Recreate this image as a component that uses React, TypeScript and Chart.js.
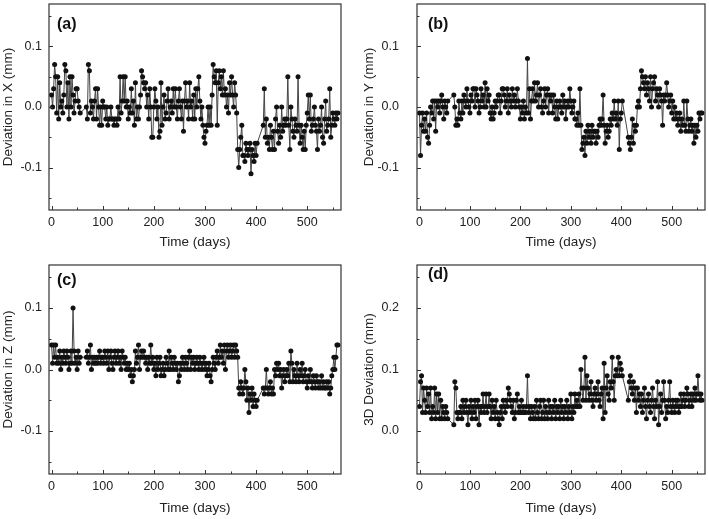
import React, { useEffect, useRef } from "react";
import { Chart, registerables } from "chart.js";
Chart.register(...registerables);

// Measurement days (common to all four panels)
const days = [
  0, 2, 4, 6, 8, 10, 12, 14, 16, 18,
  20, 22, 24, 26, 28, 30, 32, 34, 36, 38,
  40, 42, 44, 46, 48, 50, 52, 54, 56, 68,
  70, 72, 74, 76, 78, 80, 82, 84, 86, 88,
  90, 92, 94, 96, 98, 100, 102, 104, 106, 108,
  110, 112, 114, 116, 118, 120, 122, 124, 126, 128,
  130, 132, 134, 136, 138, 140, 142, 144, 146, 148,
  150, 152, 154, 156, 158, 160, 162, 164, 166, 168,
  170, 172, 174, 176, 178, 180, 182, 184, 186, 188,
  190, 192, 194, 196, 198, 200, 202, 204, 206, 208,
  210, 212, 214, 216, 218, 220, 222, 224, 226, 228,
  230, 232, 234, 236, 238, 240, 242, 244, 246, 248,
  250, 252, 254, 256, 258, 260, 262, 264, 266, 268,
  270, 272, 274, 276, 278, 280, 282, 284, 286, 288,
  290, 292, 294, 296, 298, 300, 302, 304, 306, 308,
  310, 312, 314, 316, 318, 320, 322, 324, 326, 328,
  330, 332, 334, 336, 338, 340, 342, 344, 346, 348,
  350, 352, 354, 356, 358, 360, 362, 364, 366, 368,
  370, 372, 374, 376, 378, 380, 382, 384, 386, 388,
  390, 392, 394, 396, 398, 400, 402, 414, 416, 418,
  420, 422, 424, 426, 428, 430, 432, 434, 436, 438,
  440, 442, 444, 446, 448, 450, 452, 454, 456, 458,
  460, 462, 464, 466, 468, 470, 472, 474, 476, 478,
  480, 482, 484, 486, 488, 490, 492, 494, 496, 498,
  500, 502, 504, 506, 508, 510, 512, 514, 516, 518,
  520, 522, 524, 526, 528, 530, 532, 534, 536, 538,
  540, 542, 544, 546, 548, 550, 552, 554, 556, 558,
  560,
];

// Deviations in hundredths of a millimetre
const devX = [
  2, 0, 3, 7, 5, -1, 5, -2, 4, 0,
  1, -1, 2, 7, 6, 0, 4, -2, 5, 0,
  5, 2, -1, 1, 3, 3, 1, 0, -1, 0,
  -2, 7, 6, -1, 1, 0, -2, 1, 3, -2,
  3, 0, -3, 0, -3, 1, 0, 0, -2, 0,
  -3, -2, -2, 0, -2, -2, -3, -2, -2, -3,
  0, -2, 5, -1, 1, 5, 1, 5, 0, 1,
  -2, 0, -1, 3, -1, 1, -3, 4, -2, 0,
  -2, 0, 2, 6, 5, 4, 3, 4, 0, 2,
  -2, 3, 0, -5, -5, 0, 3, 1, -2, 0,
  -5, -4, 4, -3, 0, 2, -2, -1, 1, 3,
  -2, 0, 1, -1, 3, 0, 3, 0, -2, 1,
  3, 0, -2, 1, -4, 1, 4, 0, 1, -2,
  4, 0, 1, -2, 2, -2, 3, 0, 3, 5,
  1, -2, 0, -3, -5, -6, -4, -3, 0, -3,
  0, -3, 2, 7, 5, 4, 6, -3, 4, 6,
  3, 5, 2, 6, 2, 3, 0, 2, -1, 4,
  2, 5, 2, 0, 4, 2, -1, -7, -10, -7,
  -5, -3, -8, -8, -9, -6, -7, -8, -7, -6,
  -11, -7, -8, -9, -6, -8, -6, -3, 3, -5,
  -2, -6, -5, -7, -3, -5, -7, -4, -7, -2,
  0, -4, -6, -3, -5, 0, -4, -3, -2, -3,
  -2, 5, -3, -7, 0, -2, -4, -5, -2, -3,
  -4, 5, -3, -6, -3, -5, -7, -4, -7, -3,
  -1, 2, -2, 2, -4, -3, -2, 0, -3, -4,
  -7, -2, -4, -3, 0, -5, -6, -2, 1, -4,
  -3, -2, 3, -5, -3, -1, -2, -3, -1, -2,
  -1,
];

const devY = [
  -1, -8, -3, -1, -4, -2, -4, -1, -5, -6,
  -3, 0, -1, 1, -2, 1, -4, 1, 0, 1,
  -1, 1, 2, 0, -2, 1, 0, -1, 1, 2,
  0, -3, -2, -3, 1, -1, -2, 1, -1, 2,
  1, 0, 3, 1, 0, -1, 2, 1, 3, 3,
  0, 3, 2, 1, -1, 0, 3, 1, 2, 0,
  4, 0, 3, 1, 2, -1, -2, 0, -2, -1,
  1, 0, 1, 2, 2, -1, 1, 3, 3, 2,
  0, 1, 3, -1, 2, 1, 0, 3, 1, 2,
  0, 1, 3, 1, 0, -2, 0, -1, 1, -2,
  0, -1, 8, -1, 3, -2, 1, 3, 1, 4,
  1, 2, 4, 0, 2, 3, 0, -1, 1, 3,
  0, 2, 3, -1, 2, 1, 2, -1, 2, 0,
  -2, 1, -2, 0, 1, 0, -1, 2, 0, 1,
  -2, 0, 1, 0, 3, 1, -1, 0, 1, -2,
  -2, -3, -1, -3, 3, -3, -7, -6, -5, -8,
  -4, -6, -3, -5, -4, -6, -3, -5, -4, -4,
  -6, -4, -5, -3, -2, -3, -2, 2, -3, -6,
  -4, -3, -5, -4, -2, -3, -1, -2, 1, -2,
  -1, -3, 1, -7, -2, -1, 1, -5, -6, -7,
  -5, -2, -6, -3, -4, -3, 0, 1, 0, 3,
  6, 5, 4, 3, 5, 2, 4, 3, 1, 5,
  0, 3, 4, 5, 1, 3, 2, 0, 3, 2,
  1, -3, 2, 1, 2, 4, 2, 0, 1, 2,
  -1, 1, -2, 0, -2, -1, -3, -2, -1, -4,
  -2, -3, 1, -3, -4, 1, -2, -4, -3, -2,
  -4, -3, -6, -3, -5, -3, -4, -1, -2, -1,
  -1,
];

const devZ = [
  4, 1, 4, 2, 4, 1, 2, 1, 3, 0,
  2, 1, 3, 2, 1, 3, 2, 0, 1, 3,
  1, 10, 3, 1, 2, 0, 3, 1, 2, 2,
  3, 1, 2, 4, 0, 2, 1, 2, 1, 2,
  1, 2, 3, 1, 2, 2, 1, 3, 2, 1,
  3, 0, 2, 3, 1, 0, 2, 3, 1, 2,
  3, 1, 2, 0, 3, 2, 1, 2, 0, 1,
  0, 1, -1, 0, -2, -1, 0, 3, 1, 2,
  4, 0, 2, 3, 2, 3, 2, 1, 2, 0,
  2, 1, 4, 1, 2, 0, 1, -1, 2, 0,
  1, 2, -1, 0, 1, -1, 0, 2, 1, 0,
  3, 0, 2, 1, 0, 2, 1, 0, 1, -2,
  -1, 1, 0, 2, 1, 0, 2, 1, 0, 2,
  3, 0, 2, 1, 2, 0, 1, 2, 1, 0,
  2, 1, 0, 1, 2, 0, 1, -1, 0, 1,
  -1, -2, 0, 2, 1, 0, 2, 3, 1, 2,
  4, 2, 3, 1, 4, 0, 3, 4, 2, 3,
  4, 2, 3, 4, 2, 4, 3, 2, -3, -4,
  -2, -3, -4, -3, 0, -2, -5, -3, -7, -4,
  -5, -3, -6, -4, -5, -6, -5, -3, -4, -3,
  0, -3, -4, -3, -2, -4, -3, -4, 0, -1,
  1, 0, 1, -1, 0, -3, -1, 0, -2, -1,
  0, -1, 1, -2, 3, 1, -2, 0, -1, -2,
  1, -1, -2, 0, -1, 1, -2, -1, 0, -2,
  -3, -1, -2, 0, -2, -3, -1, -2, -3, -1,
  -2, -3, -2, -3, -1, -3, -2, -3, -3, -2,
  -3, -2, -4, -3, -1, 0, 2, 0, 2, 4,
  4,
];

const dev3D = [
  4, 8, 9, 3, 7, 5, 3, 7, 4, 6,
  3, 7, 2, 4, 3, 7, 2, 6, 3, 6,
  2, 5, 2, 4, 3, 2, 4, 3, 2, 1,
  8, 7, 3, 2, 3, 3, 4, 2, 5, 3,
  4, 5, 3, 1, 4, 3, 5, 2, 4, 3,
  5, 2, 4, 5, 1, 4, 3, 4, 6, 3,
  4, 6, 3, 4, 6, 4, 2, 5, 3, 4,
  2, 5, 3, 2, 1, 3, 4, 2, 5, 4,
  3, 5, 4, 7, 6, 5, 4, 3, 5, 2,
  3, 5, 6, 3, 4, 3, 5, 3, 4, 3,
  3, 4, 9, 3, 4, 2, 4, 3, 2, 4,
  2, 5, 3, 2, 4, 5, 2, 3, 5, 2,
  4, 3, 2, 5, 3, 4, 2, 4, 3, 5,
  2, 4, 3, 4, 2, 5, 3, 4, 2, 4,
  3, 5, 2, 4, 3, 6, 2, 4, 3, 6,
  4, 5, 4, 6, 4, 10, 7, 5, 7, 12,
  5, 9, 7, 5, 6, 8, 5, 4, 6, 7,
  5, 6, 8, 5, 4, 6, 7, 2, 11, 3,
  7, 9, 6, 5, 8, 7, 12, 8, 5, 9,
  10, 9, 12, 9, 11, 10, 9, 5, 8, 9,
  7, 6, 8, 5, 7, 3, 7, 5, 6, 4,
  6, 3, 5, 7, 4, 2, 5, 6, 4, 3,
  5, 7, 4, 2, 5, 4, 8, 1, 4, 6,
  3, 5, 8, 5, 2, 4, 3, 5, 8, 4,
  3, 5, 4, 3, 5, 4, 5, 3, 4, 6,
  4, 5, 6, 4, 5, 7, 6, 4, 5, 6,
  4, 6, 5, 7, 5, 6, 9, 6, 5, 6,
  5,
];

const xMajorTicks = [0, 100, 200, 300, 400, 500];
const xMinorTicks = [50, 150, 250, 350, 450, 550];
const yMajorXYZ = [-0.1, 0, 0.1];
const yMinorXYZ = [-0.15, -0.05, 0.05, 0.15];
const yMajor3D = [0, 0.1, 0.2];
const yMinor3D = [-0.05, 0.05, 0.15, 0.25];
const panelLabels = ["(a)", "(b)", "(c)", "(d)"];
const yTitles = ["Deviation in X (mm)", "Deviation in Y (mm)", "Deviation in Z (mm)", "3D Deviation (mm)"];
const xTitle = "Time (days)";

const FONT = "'Liberation Sans', Arial, Helvetica, sans-serif";

type Panel = {
  values: number[];
  label: string;
  yTitle: string;
  yMin: number;
  yMax: number;
  yMajor: number[];
  yMinor: number[];
  left: number;
  top: number;
  w: number;
  h: number;
  areaTop: number;
  areaBottom: number;
  yWidth: number;
  padRight: number;
  yTickPad: number;
  yTitlePad: number;
  xTitlePad: number;
  labelDx: number;
  labelDy: number;
};

// areaTop / areaBottom are positions inside each canvas
const panels: Panel[] = [
  { values: devX, label: panelLabels[0], yTitle: yTitles[0], yMin: -0.17, yMax: 0.17, yMajor: yMajorXYZ, yMinor: yMinorXYZ,
    left: 0, top: 0, w: 354, h: 260, areaTop: 1, areaBottom: 210, yWidth: 49, padRight: 13, yTickPad: 7, yTitlePad: 0, xTitlePad: 10, labelDx: 8, labelDy: 21 },
  { values: devY, label: panelLabels[1], yTitle: yTitles[1], yMin: -0.17, yMax: 0.17, yMajor: yMajorXYZ, yMinor: yMinorXYZ,
    left: 354, top: 0, w: 355, h: 260, areaTop: 1, areaBottom: 210, yWidth: 63, padRight: 1, yTickPad: 18, yTitlePad: 7, xTitlePad: 10, labelDx: 11, labelDy: 21 },
  { values: devZ, label: panelLabels[2], yTitle: yTitles[2], yMin: -0.17, yMax: 0.17, yMajor: yMajorXYZ, yMinor: yMinorXYZ,
    left: 0, top: 255, w: 354, h: 264, areaTop: 10, areaBottom: 219, yWidth: 49, padRight: 13, yTickPad: 7, yTitlePad: 0, xTitlePad: 3, labelDx: 8, labelDy: 16 },
  { values: dev3D, label: panelLabels[3], yTitle: yTitles[3], yMin: -0.07, yMax: 0.27, yMajor: yMajor3D, yMinor: yMinor3D,
    left: 354, top: 255, w: 355, h: 264, areaTop: 10, areaBottom: 219, yWidth: 63, padRight: 1, yTickPad: 18, yTitlePad: 7, xTitlePad: 3, labelDx: 11, labelDy: 10 },
];

const frameTicksPlugin = {
  id: "frameTicks",
  afterDraw(chart: any, _args: any, opts: any) {
    const { ctx, chartArea } = chart;
    const { left, right, top, bottom } = chartArea;
    const xs = chart.scales.x;
    const ys = chart.scales.y;
    ctx.save();
    ctx.strokeStyle = "#333";
    ctx.lineWidth = 1.2;
    ctx.strokeRect(left, top, right - left, bottom - top);
    ctx.lineWidth = 1;
    const tick = (x1: number, y1: number, x2: number, y2: number) => {
      ctx.beginPath();
      ctx.moveTo(x1, y1);
      ctx.lineTo(x2, y2);
      ctx.stroke();
    };
    xMajorTicks.forEach((v) => {
      const px = Math.round(xs.getPixelForValue(v)) + 0.5;
      tick(px, bottom, px, bottom - 4);
    });
    xMinorTicks.forEach((v) => {
      const px = Math.round(xs.getPixelForValue(v)) + 0.5;
      if (px < right) tick(px, bottom, px, bottom - 2.5);
    });
    (opts.yMajor as number[]).forEach((v) => {
      const py = Math.round(ys.getPixelForValue(v)) + 0.5;
      tick(left, py, left + 4, py);
    });
    (opts.yMinor as number[]).forEach((v) => {
      const py = Math.round(ys.getPixelForValue(v)) + 0.5;
      if (py > top) tick(left, py, left + 2.5, py);
    });
    ctx.fillStyle = "#111";
    ctx.font = `bold 16px ${FONT}`;
    ctx.textBaseline = "middle";
    ctx.textAlign = "left";
    ctx.fillText(opts.label, left + opts.labelDx, top + opts.labelDy);
    ctx.restore();
  },
};

function PanelChart({ p }: { p: Panel }) {
  const ref = useRef<HTMLCanvasElement>(null);
  useEffect(() => {
    if (!ref.current) return;
    const data = days.map((d, i) => ({ x: d, y: p.values[i] / 100 }));
    const chart = new Chart(ref.current, {
      type: "line",
      data: {
        datasets: [
          {
            data,
            borderColor: "#444",
            borderWidth: 1,
            pointRadius: 2.5,
            pointBackgroundColor: "#111",
            pointBorderColor: "#111",
            pointBorderWidth: 0,
            tension: 0,
          },
        ],
      },
      options: {
        responsive: false,
        animation: false,
        layout: { padding: { left: 0, right: p.padRight, top: p.areaTop, bottom: 0 } },
        plugins: {
          legend: { display: false },
          tooltip: { enabled: false },
          frameTicks: { label: p.label, labelDx: p.labelDx, labelDy: p.labelDy, yMajor: p.yMajor, yMinor: p.yMinor },
        } as any,
        scales: {
          x: {
            type: "linear",
            min: -5,
            max: 566,
            grid: { display: false, drawTicks: false },
            border: { display: false },
            afterBuildTicks: (s: any) => {
              s.ticks = xMajorTicks.map((v) => ({ value: v }));
            },
            afterFit: (s: any) => {
              s.height = p.h - p.areaBottom;
              s.paddingLeft = 0;
              s.paddingRight = 0;
              s.paddingTop = 0;
              s.paddingBottom = 0;
            },
            ticks: {
              padding: 5,
              color: "#222",
              font: { family: FONT, size: 12.5 },
              maxRotation: 0,
              callback: (v: any) => String(v),
            },
            title: {
              display: true,
              text: xTitle,
              color: "#222",
              font: { family: FONT, size: 13.5 },
              padding: { top: 0, bottom: p.xTitlePad },
            },
          },
          y: {
            type: "linear",
            min: p.yMin,
            max: p.yMax,
            grid: { display: false, drawTicks: false },
            border: { display: false },
            afterBuildTicks: (s: any) => {
              s.ticks = p.yMajor.map((v) => ({ value: v }));
            },
            afterFit: (s: any) => {
              s.width = p.yWidth;
              s.paddingTop = 0;
              s.paddingBottom = 0;
              s.paddingLeft = 0;
              s.paddingRight = 0;
            },
            ticks: {
              padding: p.yTickPad,
              color: "#222",
              font: { family: FONT, size: 12.5 },
              callback: (v: any) => Number(v).toFixed(1),
            },
            title: {
              display: true,
              text: p.yTitle,
              color: "#222",
              font: { family: FONT, size: 13.5 },
              padding: { top: p.yTitlePad, bottom: 0 },
            },
          },
        },
      },
      plugins: [frameTicksPlugin],
    });
    return () => chart.destroy();
  }, [p]);
  return (
    <canvas
      ref={ref}
      width={p.w}
      height={p.h}
      style={{ position: "absolute", left: p.left, top: p.top, width: p.w, height: p.h }}
    />
  );
}

export default function App() {
  return (
    <div style={{ position: "absolute", left: 0, top: 0, width: 709, height: 519, background: "#fff", overflow: "hidden" }}>
      {panels.map((p, i) => (
        <PanelChart key={i} p={p} />
      ))}
    </div>
  );
}
